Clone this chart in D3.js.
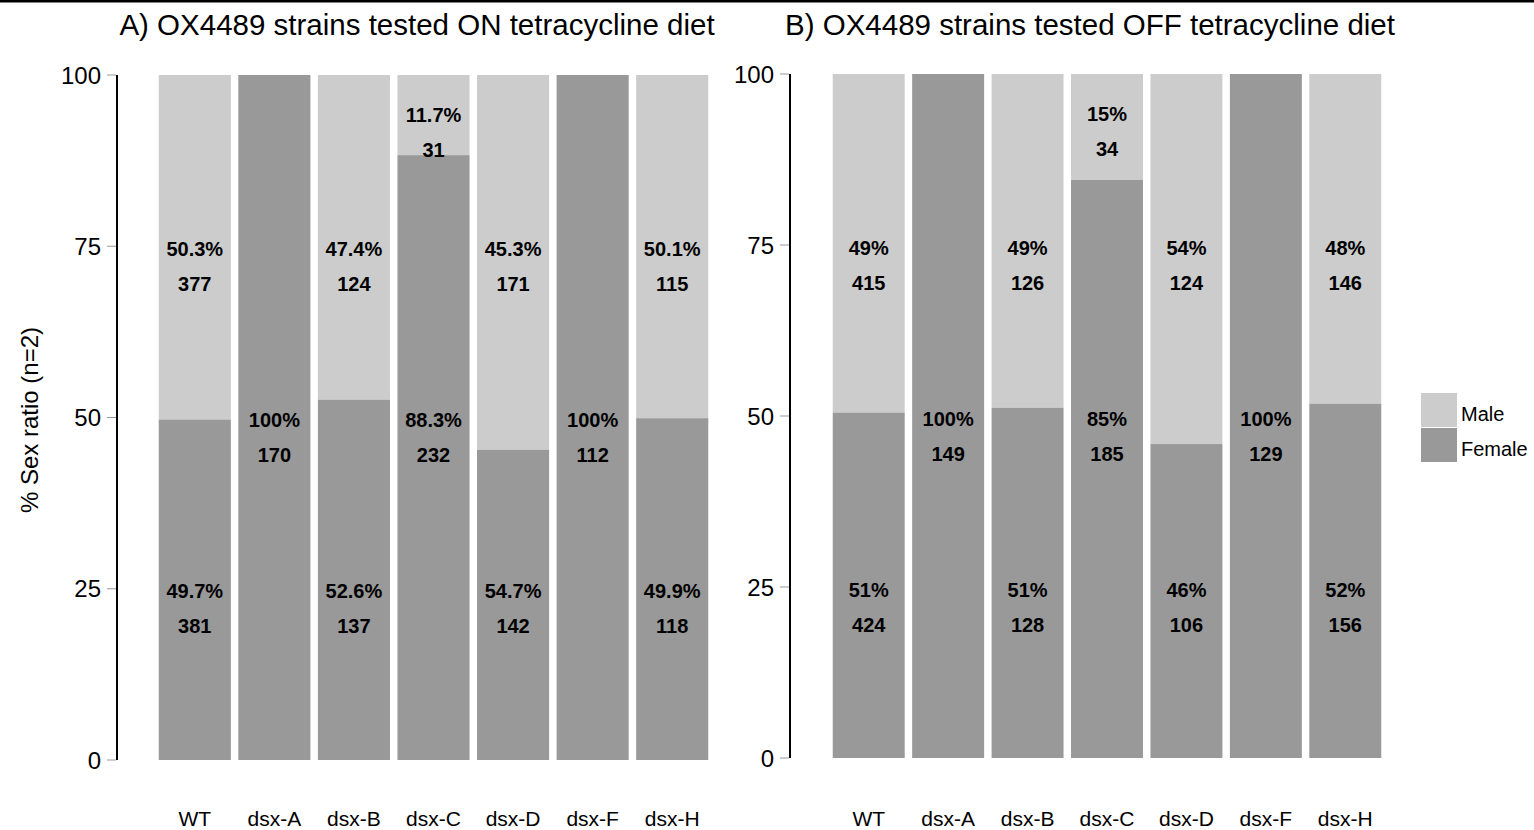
<!DOCTYPE html>
<html>
<head>
<meta charset="utf-8">
<script src="https://cdn.jsdelivr.net/npm/d3@7"></script>
<style>
  body { margin: 0; background: #fff; }
  text { font-family: "Liberation Sans", Arial, sans-serif; fill: #000; }
  .tick-label { font-size: 24px; }
  .bar-label { font-size: 20px; font-weight: bold; }
  .x-label { font-size: 21px; }
  .title { font-size: 29.5px; }
</style>
</head>
<body>
<div id="wrapper"></div>
<script>
// data

const strains = ["WT", "dsx-A", "dsx-B", "dsx-C", "dsx-D", "dsx-F", "dsx-H"]
const yTicks = [0, 25, 50, 75, 100]

// A) ON tetracycline
const onFemalePct = [49.7, 100, 52.6, 88.3, 45.3, 100, 49.9]
const onFemaleLabel = ["49.7%", "100%", "52.6%", "88.3%", "54.7%", "100%", "49.9%"]
const onMaleLabel = ["50.3%", null, "47.4%", "11.7%", "45.3%", null, "50.1%"]
const onFemaleN = [381, 170, 137, 232, 142, 112, 118]
const onMaleN = [377, 0, 124, 31, 171, 0, 115]

// B) OFF tetracycline
const offFemalePct = [50.5, 100, 51.2, 84.5, 45.9, 100, 51.8]
const offFemaleLabel = ["51%", "100%", "51%", "85%", "46%", "100%", "52%"]
const offMaleLabel = ["49%", null, "49%", "15%", "54%", null, "48%"]
const offFemaleN = [424, 149, 128, 185, 106, 129, 156]
const offMaleN = [415, 0, 126, 34, 124, 0, 146]

const sexes = ["Male", "Female"]
const colors = { Male: "#cccccc", Female: "#999999" }

// canvas

const width = 1534
const height = 830

const svg = d3.select("#wrapper")
  .append("svg")
    .attr("width", width)
    .attr("height", height)

svg.append("line")
  .attr("x1", 0).attr("x2", width)
  .attr("y1", 1).attr("y2", 1)
  .attr("stroke", "#000")
  .attr("stroke-width", 3)

const panels = [
  {
    title: "A) OX4489 strains tested ON tetracycline diet",
    titleX: 417,
    axisX: 117, yRange: [760, 75], xRange: [155, 712],
    femalePct: onFemalePct, femaleLabel: onFemaleLabel, maleLabel: onMaleLabel,
    femaleN: onFemaleN, maleN: onMaleN,
  },
  {
    title: "B) OX4489 strains tested OFF tetracycline diet",
    titleX: 1090,
    axisX: 790, yRange: [758, 74], xRange: [829, 1385],
    femalePct: offFemalePct, femaleLabel: offFemaleLabel, maleLabel: offMaleLabel,
    femaleN: offFemaleN, maleN: offMaleN,
  },
]

panels.forEach(p => {
  const g = svg.append("g")

  const yScale = d3.scaleLinear().domain([0, 100]).range(p.yRange)
  const xScale = d3.scaleBand()
    .domain(strains)
    .range(p.xRange)
    .paddingInner(0.094)
    .paddingOuter(0.047)

  const rows = strains.map((s, i) => ({
    strain: s,
    female: p.femalePct[i],
    male: 100 - p.femalePct[i],
    femaleLabel: p.femaleLabel[i],
    maleLabel: p.maleLabel[i],
    femaleN: p.femaleN[i],
    maleN: p.maleN[i],
  }))

  // bars: female at bottom, male stacked on top
  g.selectAll(".bar-male")
    .data(rows)
    .join("rect")
      .attr("x", d => xScale(d.strain))
      .attr("width", xScale.bandwidth())
      .attr("y", yScale(100))
      .attr("height", d => yScale(d.female) - yScale(100))
      .attr("fill", colors.Male)

  g.selectAll(".bar-female")
    .data(rows)
    .join("rect")
      .attr("x", d => xScale(d.strain))
      .attr("width", xScale.bandwidth())
      .attr("y", d => yScale(d.female))
      .attr("height", d => yScale(0) - yScale(d.female))
      .attr("fill", colors.Female)

  // labels
  const addLabel = (x, value, pct, n) => {
    const cy = yScale(value) + 2.5
    g.append("text")
      .attr("class", "bar-label")
      .attr("x", x).attr("y", cy + 7)
      .attr("text-anchor", "middle")
      .text(pct)
    g.append("text")
      .attr("class", "bar-label")
      .attr("x", x).attr("y", cy + 42)
      .attr("text-anchor", "middle")
      .text(n)
  }

  rows.forEach(d => {
    const cx = xScale(d.strain) + xScale.bandwidth() / 2
    const smallMale = d.male > 0 && d.male < 20
    if (d.maleLabel) addLabel(cx, smallMale ? 94.5 : 75, d.maleLabel, d.maleN)
    addLabel(cx, (d.female === 100 || smallMale) ? 50 : 25, d.femaleLabel, d.femaleN)
  })

  // y axis
  g.append("line")
    .attr("x1", p.axisX).attr("x2", p.axisX)
    .attr("y1", yScale(100)).attr("y2", yScale(0))
    .attr("stroke", "#000")
    .attr("stroke-width", 2)

  yTicks.forEach(t => {
    g.append("line")
      .attr("x1", p.axisX - 10).attr("x2", p.axisX - 1)
      .attr("y1", yScale(t)).attr("y2", yScale(t))
      .attr("stroke", "#999")
      .attr("stroke-width", 1)
    g.append("text")
      .attr("class", "tick-label")
      .attr("x", p.axisX - 16)
      .attr("y", yScale(t) + 8.5)
      .attr("text-anchor", "end")
      .text(t)
  })

  // x labels
  strains.forEach(s => {
    g.append("text")
      .attr("class", "x-label")
      .attr("x", xScale(s) + xScale.bandwidth() / 2)
      .attr("y", 826)
      .attr("text-anchor", "middle")
      .text(s)
  })

  g.append("text")
    .attr("class", "title")
    .attr("x", p.titleX)
    .attr("y", 35)
    .attr("text-anchor", "middle")
    .text(p.title)
})

// y axis title
svg.append("text")
  .attr("transform", "translate(38, 420) rotate(-90)")
  .attr("text-anchor", "middle")
  .style("font-size", "24px")
  .text("% Sex ratio (n=2)")

// legend
const legend = svg.append("g")
sexes.forEach((s, i) => {
  legend.append("rect")
    .attr("x", 1421)
    .attr("y", 393 + i * 35)
    .attr("width", 36)
    .attr("height", 34)
    .attr("fill", colors[s])
  legend.append("text")
    .attr("x", 1461)
    .attr("y", 393 + i * 35 + 28)
    .style("font-size", "20px")
    .text(s)
})
</script>
</body>
</html>
